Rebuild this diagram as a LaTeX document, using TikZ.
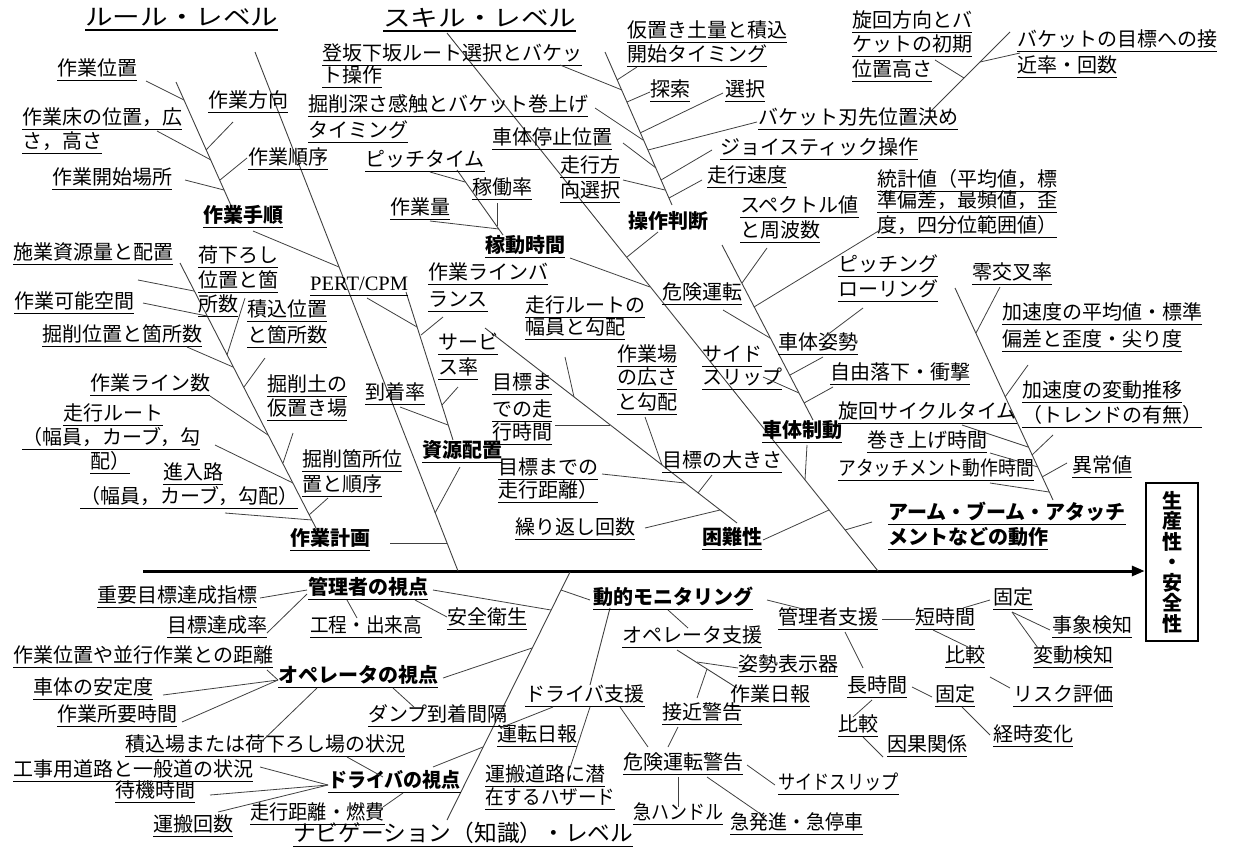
\documentclass[tikz,border=0pt]{standalone}
\usepackage{fontspec}
\setmainfont{Noto Sans CJK JP}
\newfontfamily\serifen{Liberation Serif}
\usetikzlibrary{arrows.meta}
\newcommand\ulx[1]{\leavevmode\setbox0\hbox{#1}\rlap{\raisebox{-4.6pt}{\rule{\wd0}{1pt}}}\box0}
\newcommand\ulxt[1]{\leavevmode\setbox0\hbox{#1}\rlap{\raisebox{-5pt}{\rule{\wd0}{1.5pt}}}\box0}
\newcommand\mycn[3]{\coordinate (#1a) at (#2); \coordinate (#1b) at (#3); \draw[br] (#1a) -- (#1b);}
\newcommand\mytx[4][lab]{\node[#1] (#2) at (#3) {\ulx{#4}};}
\tikzset{
  lab/.style={anchor=base west, inner sep=0pt, yshift=5.1pt, font=\fontsize{20}{24}\selectfont},
  bl/.style={lab, font=\fontsize{20}{24}\selectfont\bfseries},
  ttl/.style={lab, font=\fontsize{23}{28}\selectfont},
  navi/.style={lab, font=\fontsize{22.7}{26}\selectfont},
  pert/.style={lab, font=\fontsize{20.5}{24}\selectfont\serifen},
  br/.style={draw=black!75, line width=0.8pt},
  bone/.style={draw=black!75, line width=0.9pt},
}
\begin{document}
\begin{tikzpicture}[x=1pt,y=-1pt]
\path[fill=white] (0,0) rectangle (1234,852);
\useasboundingbox (0,0) rectangle (1234,852);

% ---------- goal box and spine ----------
\node[draw, line width=2.5pt, inner sep=0pt, minimum width=52pt, minimum height=158pt,
      align=center, font=\fontsize{20}{20.5}\selectfont\bfseries] (goal) at (1172,562)
      {生\\産\\性\\・\\安\\全\\性};
\coordinate (spineL) at (143,571);
\draw[line width=3pt, -{Triangle[length=13pt,width=10pt]}] (spineL) -- (spineL -| goal.west);

% ---------- bones ----------
\coordinate (R0) at (255,52);   \coordinate (R1) at (458,571);
\coordinate (S0) at (447,33);   \coordinate (S1) at (878,571);
\coordinate (Tj0) at (176,82);  \coordinate (Tj1) at (233,210);
\coordinate (Kk0) at (180,263); \coordinate (Kk1) at (318,532);
\coordinate (Sg0) at (406,292); \coordinate (Sg1) at (453,440);
\coordinate (Kd0) at (457,170); \coordinate (Kd1) at (503,235);
\coordinate (So0) at (605,52);  \coordinate (So1) at (672,205);
\coordinate (Bk0) at (1010,32); \coordinate (Bk1) at (929,113);
\coordinate (Kn0) at (485,328); \coordinate (Kn1) at (737,523);
\coordinate (Sh0) at (722,245); \coordinate (Sh1) at (813,420);
\coordinate (Am0) at (955,288); \coordinate (Am1) at (1053,500);
\coordinate (Nv0) at (570,572); \coordinate (Nv1) at (447,820);
\coordinate (Dm0) at (610,608); \coordinate (Dm1) at (590,685);
\coordinate (Os0) at (677,650); \coordinate (Os1) at (737,688);
\foreach \a/\b in {R0/R1,S0/S1,Tj0/Tj1,Kk0/Kk1,Sg0/Sg1,Kd0/Kd1,So0/So1,Bk0/Bk1,Kn0/Kn1,Sh0/Sh1,Am0/Am1,Nv0/Nv1,Dm0/Dm1,Os0/Os1}
  \draw[bone] (\a) -- (\b);

% ---------- titles ----------
\node[ttl] (ruleT) at (85,31) {\ulxt{\scalebox{1.2}[1]{ルール・レベル}}};
\node[ttl] (skillT) at (383,32) {\ulxt{\scalebox{1.2}[1]{スキル・レベル}}};
\mytx[navi]{naviT}{293,847}{ナビゲーション（知識）・レベル}

% ---------- upper left labels ----------
\mytx{ichi}{57,81}{作業位置}
\mytx{houkou}{208,113}{作業方向}
\mytx{yukaA}{22,130}{作業床の位置，広}
\mytx{yukaB}{22,154}{さ，高さ}
\mytx{junjo}{248,170}{作業順序}
\mytx{kaishi}{52,190}{作業開始場所}
\mytx[bl]{tejun}{203,228}{作業手順}
\mytx{shigenryo}{13,265}{施業資源量と配置}
\mytx{niorA}{198,268}{荷下ろし}
\mytx{niorB}{198,293}{位置と箇}
\mytx{niorC}{198,317}{所数}
\mytx{kanou}{14,314}{作業可能空間}
\mytx{tsumiA}{247,322}{積込位置}
\mytx{tsumiB}{247,348}{と箇所数}
\mytx{kussaku}{42,347}{掘削位置と箇所数}
\mytx{linesu}{90,396}{作業ライン数}
\mytx{kariA}{267,397}{掘削土の}
\mytx{kariB}{267,421}{仮置き場}
\mytx{routeA}{63,426}{走行ルート}
\mytx{routeB}{22,450}{（幅員，カーブ，勾}
\mytx{routeC}{90,474}{配）}
\mytx{shinA}{163,485}{進入路}
\mytx{shinB}{80,509}{（幅員，カーブ，勾配）}
\mytx{kashoA}{302,472}{掘削箇所位}
\mytx{kashoB}{302,497}{置と順序}
\mytx[bl]{keikaku}{290,551}{作業計画}

% ---------- upper middle labels ----------
\mytx{tohanA}{322,66}{登坂下坂ルート選択とバケッ}
\mytx{tohanB}{322,88}{ト操作}
\mytx{fukaA}{308,117}{掘削深さ感触とバケット巻上げ}
\mytx{fukaB}{308,143}{タイミング}
\mytx{pitch}{365,172}{ピッチタイム}
\mytx{kadour}{472,200}{稼働率}
\mytx{ryou}{390,220}{作業量}
\mytx[bl]{kadou}{485,258}{稼動時間}
\mytx{balA}{428,285}{作業ラインバ}
\mytx{balB}{428,312}{ランス}
\mytx[pert]{pertn}{310,296}{PERT/CPM}
\mytx{rrA}{525,318}{走行ルートの}
\mytx{rrB}{525,340}{幅員と勾配}
\mytx{servA}{438,355}{サービ}
\mytx{servB}{438,380}{ス率}
\mytx{touch}{365,405}{到着率}
\mytx{mjA}{492,395}{目標ま}
\mytx{mjB}{492,422}{での走}
\mytx{mjC}{492,445}{行時間}
\mytx[bl]{shigen}{422,463}{資源配置}
\mytx{mkA}{498,480}{目標までの}
\mytx{mkB}{498,503}{走行距離）}
\mytx{kuri}{515,540}{繰り返し回数}
\mytx[bl]{konnan}{702,550}{困難性}
\mytx{baA}{617,367}{作業場}
\mytx{baB}{617,390}{の広さ}
\mytx{baC}{617,415}{と勾配}
\mytx{ookisa}{662,473}{目標の大きさ}
\mytx{kiken}{662,305}{危険運転}
\mytx{sideA}{702,367}{サイド}
\mytx{sideB}{702,390}{スリップ}

% ---------- upper right labels ----------
\mytx{kariokiA}{627,43}{仮置き土量と積込}
\mytx{kariokiB}{627,67}{開始タイミング}
\mytx{tansaku}{650,102}{探索}
\mytx{sentaku}{725,102}{選択}
\mytx{hasaki}{758,130}{バケット刃先位置決め}
\mytx{teishi}{492,150}{車体停止位置}
\mytx{joy}{720,160}{ジョイスティック操作}
\mytx{hkA}{560,178}{走行方}
\mytx{hkB}{560,203}{向選択}
\mytx{sokudo}{707,188}{走行速度}
\node[bl] (sousa) at (628,234) {操作判断};
\mytx{senA}{852,33}{旋回方向とバ}
\mytx{senB}{852,57}{ケットの初期}
\mytx{senC}{852,82}{位置高さ}
\mytx{sekA}{1017,52}{バケットの目標への接}
\mytx{sekB}{1017,78}{近率・回数}
\mytx{touA}{877,192}{統計値（平均値，標}
\mytx{touB}{877,213}{準偏差，最頻値，歪}
\mytx{touC}{877,238}{度，四分位範囲値）}
\mytx{specA}{740,218}{スペクトル値}
\mytx{specB}{740,243}{と周波数}
\mytx{pitA}{838,277}{ピッチング}
\mytx{pitB}{838,302}{ローリング}
\mytx{zero}{972,285}{零交叉率}
\mytx{heiA}{1002,325}{加速度の平均値・標準}
\mytx{heiB}{1002,352}{偏差と歪度・尖り度}
\mytx{shisei}{778,355}{車体姿勢}
\mytx{rakka}{830,385}{自由落下・衝撃}
\mytx{henA}{1022,403}{加速度の変動推移}
\mytx{henB}{1022,428}{（トレンドの有無）}
\mytx{cycle}{838,424}{旋回サイクルタイム}
\mytx[bl]{shatai}{762,443}{車体制動}
\mytx{makiage}{867,453}{巻き上げ時間}
\mytx{attach}{838,481}{\scalebox{0.89}[1]{アタッチメント動作時間}}
\mytx{ijou}{1072,478}{異常値}
\mytx[bl]{armA}{888,525}{アーム・ブーム・アタッチ}
\mytx[bl]{armB}{888,550}{メントなどの動作}

% ---------- lower labels ----------
\mytx[bl]{kanrisha}{308,600}{管理者の視点}
\mytx{juyou}{97,608}{重要目標達成指標}
\mytx{tassei}{167,638}{目標達成率}
\mytx{koutei}{310,638}{\scalebox{0.93}[1]{工程・出来高}}
\mytx{anzen}{447,630}{安全衛生}
\mytx[bl]{dmon}{593,610}{動的モニタリング}
\mytx{kshien}{778,630}{管理者支援}
\mytx{tanji}{915,630}{短時間}
\mytx{koteiA}{993,610}{固定}
\mytx{jishou}{1052,638}{事象検知}
\mytx{hikakuA}{945,668}{比較}
\mytx{hendouk}{1033,668}{変動検知}
\mytx{risk}{1013,707}{リスク評価}
\mytx{chouji}{847,698}{長時間}
\mytx{koteiB}{935,707}{固定}
\mytx{hikakuB}{838,737}{比較}
\mytx{keiji}{993,747}{経時変化}
\mytx{inga}{887,757}{因果関係}
\mytx{opshien}{622,648}{オペレータ支援}
\mytx{shiseih}{738,677}{姿勢表示器}
\mytx{nippou}{730,707}{作業日報}
\mytx{sekkink}{662,725}{接近警告}
\mytx{drshien}{525,707}{ドライバ支援}
\mytx{untenn}{497,747}{運転日報}
\mytx{kikenk}{623,775}{危険運転警告}
\mytx{sslip}{778,795}{\scalebox{0.86}[1]{サイドスリップ}}
\mytx{kyuhan}{633,825}{\scalebox{0.9}[1]{急ハンドル}}
\mytx{kyuhas}{730,835}{\scalebox{0.95}[1]{急発進・急停車}}
\mytx{hazA}{485,787}{運搬道路に潜}
\mytx{hazB}{485,810}{\scalebox{0.93}[1]{在するハザード}}
\mytx[bl]{operator}{278,688}{オペレータの視点}
\mytx{kyori}{13,668}{作業位置や並行作業との距離}
\mytx{antei}{33,700}{車体の安定度}
\mytx{shoyou}{57,727}{作業所要時間}
\mytx{dump}{368,727}{ダンプ到着間隔}
\mytx{tsumiba}{125,757}{積込場または荷下ろし場の状況}
\mytx{kouji}{13,782}{工事用道路と一般道の状況}
\mytx{taiki}{115,803}{待機時間}
\mytx{unpan}{153,837}{運搬回数}
\mytx{soukou}{250,825}{\scalebox{0.96}[1]{走行距離・燃費}}
\mytx[bl]{driver}{328,793}{\scalebox{0.95}[1]{ドライバの視点}}

% ---------- connectors: upper left ----------
\mycn{c1}{146,81}{184,100}
\mycn{c2}{233,122}{206,150}
\mycn{c3}{157,131}{211,160}
\mycn{c4}{247,158}{220,180}
\mycn{c5}{185,180}{224,190}
\mycn{c6}{253,231}{339,267}
\mycn{c7}{138,280}{194,291}
\mycn{c8}{143,303}{207,316}
\mycn{c9}{245,298}{227,355}
\mycn{c10}{187,347}{233,367}
\mycn{c11}{265,358}{244,387}
\mycn{c12}{210,396}{268,435}
\mycn{c13}{293,433}{283,463}
\mycn{c14}{215,445}{293,483}
\mycn{c15}{225,513}{312,520}
\mycn{c16}{328,498}{309,515}
\mycn{c17}{390,543}{447,543}
\mycn{c18}{367,298}{417,327}
\mycn{c19}{443,317}{421,335}
\mycn{c20}{458,387}{442,405}
\mycn{c21}{400,407}{448,425}
\mycn{c22}{460,467}{435,513}
\mycn{c23}{430,172}{465,182}
\mycn{c24}{497,203}{497,226}
\mycn{c25}{430,221}{499,229}
\mycn{c26}{570,258}{650,287}
% operation judgement
\mycn{c27}{637,67}{617,80}
\mycn{c28}{560,65}{622,90}
\mycn{c29}{650,92}{627,102}
\mycn{c30}{723,93}{640,133}
\mycn{c31}{595,108}{643,140}
\mycn{c32}{757,122}{648,150}
\mycn{c33}{623,143}{656,168}
\mycn{c34}{712,150}{661,180}
\mycn{c35}{623,180}{665,190}
\mycn{c36}{702,180}{669,198}
\mycn{c37}{658,232}{627,257}
\mycn{c38}{935,60}{964,78}
\mycn{c39}{1020,53}{980,62}
% difficulty
\mycn{c40}{565,357}{574,397}
\mycn{c41}{555,425}{610,425}
\mycn{c42}{645,417}{662,465}
\mycn{c43}{602,474}{685,483}
\mycn{c44}{712,475}{698,493}
\mycn{c45}{645,528}{720,510}
\mycn{c46}{763,540}{829,510}
% body braking
\mycn{c47}{767,248}{742,283}
\mycn{c48}{885,227}{754,307}
\mycn{c49}{723,310}{770,338}
\mycn{c50}{863,308}{823,338}
\mycn{c51}{823,357}{790,375}
\mycn{c52}{763,377}{799,393}
\mycn{c53}{833,387}{804,403}
\mycn{c54}{807,445}{805,480}
% arm
\mycn{c55}{1000,287}{976,333}
\mycn{c56}{1028,365}{1005,397}
\mycn{c57}{1053,435}{1032,455}
\mycn{c58}{962,425}{1028,447}
\mycn{c59}{990,453}{1038,467}
\mycn{c60}{990,483}{1049,492}
\mycn{c61}{1067,463}{1042,477}
\mycn{c62}{872,522}{845,530}

% ---------- connectors: lower ----------
\mycn{d1}{433,590}{551,610}
\mycn{d2}{590,600}{561,590}
\mycn{d3}{443,678}{532,648}
\mycn{d4}{433,767}{483,747}
\mycn{d5}{260,598}{307,590}
\mycn{d6}{267,633}{307,594}
\mycn{d7}{347,600}{357,618}
\mycn{d8}{415,600}{447,617}
\mycn{d9}{267,670}{278,680}
\mycn{d10}{163,695}{278,680}
\mycn{d11}{182,722}{278,680}
\mycn{d12}{258,745}{317,688}
\mycn{d13}{393,688}{415,708}
\mycn{d14}{260,767}{328,785}
\mycn{d15}{210,795}{328,785}
\mycn{d16}{218,812}{328,785}
\mycn{d17}{347,757}{383,777}
\mycn{d18}{383,807}{403,793}
\mycn{d19}{668,610}{688,628}
\mycn{d20}{767,600}{807,610}
\mycn{d21}{697,662}{738,668}
\mycn{d22}{707,669}{697,698}
\mycn{d23}{620,707}{648,747}
\mycn{d24}{678,727}{668,747}
\mycn{d25}{500,728}{553,707}
\mycn{d26}{570,768}{590,707}
\mycn{d27}{747,765}{775,785}
\mycn{d28}{678,777}{678,807}
\mycn{d29}{707,777}{765,817}
\mycn{d30}{882,619}{915,619}
\mycn{d31}{845,632}{863,668}
\mycn{d32}{963,608}{990,600}
\mycn{d33}{1012,612}{1050,630}
\mycn{d34}{1012,612}{1038,648}
\mycn{d35}{933,630}{968,647}
\mycn{d36}{990,677}{1010,688}
\mycn{d37}{912,687}{932,697}
\mycn{d38}{962,707}{990,735}
\mycn{d39}{872,700}{853,717}
\mycn{d40}{863,737}{883,757}
\end{tikzpicture}
\end{document}
